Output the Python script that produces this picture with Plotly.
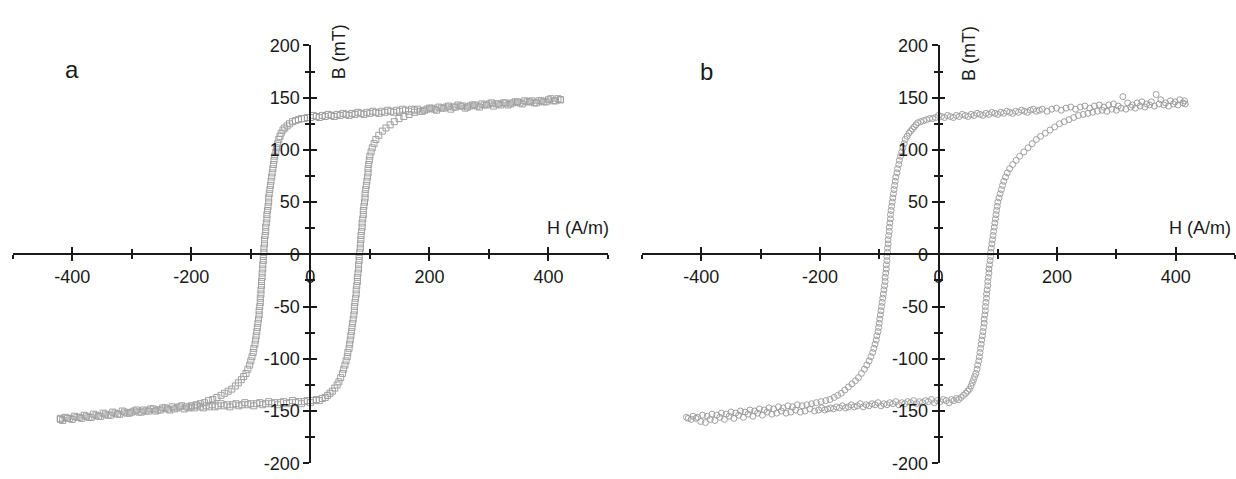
import plotly.graph_objects as go

# ---------------- Panel a (square markers) ----------------
a_up_H = [420,412,404,396,388,380,372,364,356,348,340,332,324,316,308,300,292,284,276,268,260,252,244,236,228,220,212,204,196,188,180,
          175,170,165,160,155,150,145,140,135,130,125,120,115,110,105,100,95,90,85,80,75,70,65,60,55,50,45,40,35,30,25,20,15,10,5,0,-5,-10,-15,-20,-25,-30,-35,
          -39,-43,-46,-49,-51,-53,-55,-57,-58,-60,-61,-62,-63,-64,-65,-66,-67,-68,-69,-70,-70,-71,-72,-73,-73,-74,-75,-75,-76,-77,-77,-78,-78,-79,-79,-80,-80,-81,-81,-82,-82,-83,-83,-84,-84,-85,-86,-86,-87,-88,-89,-90,-91,-92,-93,-95,-96,-98,-100,-102,-105,-108,-112,-116,-121,-126,-132,-138,-144,-150,-157,-164,-171,-178,-185,-192,-200,
          -208,-216,-224,-232,-240,-248,-256,-264,-272,-280,-288,-296,-304,-312,-320,-328,-336,-344,-352,-360,-368,-376,-384,-392,-400,-408,-416,-420]
a_up_B = [148,147,149,146,147,145,147,146,144,146,145,143,145,144,142,144,143,141,143,142,140,142,141,139,141,140,138,140,139,137,139,
          138,139,137,138,139,137,138,136,137,138,136,137,135,136,137,135,136,134,135,136,134,135,133,134,135,133,134,132,133,134,132,133,131,132,133,131,131,130,130,129,128,127,125,
          123,121,119,116,113,110,106,102,98,94,90,86,82,78,74,70,66,62,58,54,50,46,42,38,34,30,26,22,18,14,10,6,2,-2,-6,-10,-14,-18,-22,-26,-30,-34,-38,-42,-46,-50,-54,-58,-62,-66,-70,-74,-78,-82,-86,-90,-94,-98,-102,-106,-110,-114,-117,-120,-123,-126,-129,-131,-133,-135,-137,-139,-140,-142,-143,-144,-145,
          -146,-145,-147,-146,-148,-147,-149,-148,-150,-149,-151,-150,-152,-151,-153,-152,-154,-153,-155,-154,-156,-155,-157,-156,-158,-157,-159,-157]

a_low_H = [-420,-412,-404,-396,-388,-380,-372,-364,-356,-348,-340,-332,-324,-316,-308,-300,-292,-284,-276,-268,-260,-252,-244,-236,-228,-220,-212,-204,
           -200,-195,-190,-185,-180,-175,-170,-165,-160,-155,-150,-145,-140,-135,-130,-125,-120,-115,-110,-105,-100,-95,-90,-85,-80,-75,-70,-65,-60,-55,-50,-45,-40,-35,-30,-25,-20,-15,-10,-5,0,5,10,15,20,
           25,29,33,37,41,45,48,51,54,56,58,60,62,63,65,66,67,68,69,70,71,72,73,74,74,75,76,77,77,78,79,79,80,81,81,82,82,83,84,84,85,85,86,87,87,88,89,89,90,91,92,92,93,94,95,96,97,97,98,99,100,102,104,107,110,115,121,127,134,141,149,157,166,175,184,
           192,200,208,216,224,232,240,248,256,264,272,280,288,296,304,312,320,328,336,344,352,360,368,376,384,392,400,408,416,420]
a_low_B = [-158,-156,-157,-155,-156,-154,-156,-153,-155,-152,-154,-151,-153,-150,-152,-151,-149,-151,-150,-148,-150,-149,-147,-149,-148,-146,-148,-147,
           -146,-147,-145,-146,-147,-145,-146,-144,-146,-145,-143,-145,-144,-146,-144,-143,-145,-144,-142,-144,-143,-145,-143,-142,-144,-143,-141,-143,-142,-144,-142,-141,-143,-142,-140,-142,-141,-143,-141,-140,-142,-140,-139,-140,-138,
           -137,-135,-133,-131,-128,-125,-122,-118,-114,-110,-106,-102,-98,-94,-90,-86,-82,-78,-74,-70,-66,-62,-58,-54,-50,-46,-42,-38,-34,-30,-26,-22,-18,-14,-10,-6,-2,2,6,10,14,18,22,26,30,34,38,42,46,50,54,58,62,66,70,74,78,82,86,90,94,98,102,106,110,114,118,121,124,127,130,132,134,136,137,
           138,140,139,141,140,142,141,143,142,141,143,142,144,143,145,144,143,145,144,146,145,147,146,145,147,146,148,147,149,148]

# ---------------- Panel b (circle markers) ----------------
b_up_H = [415,407,399,391,383,375,367,359,351,343,335,327,319,311,303,295,287,279,271,263,255,247,239,231,223,215,207,199,191,183,175,
          170,165,160,155,150,145,140,135,130,125,120,115,110,105,100,95,90,85,80,75,70,65,60,55,50,45,40,35,30,25,20,15,10,5,0,-5,-10,-15,-20,-25,-30,-35,
          -38,-41,-44,-47,-50,-53,-56,-58,-60,-62,-64,-66,-67,-69,-70,-72,-73,-74,-75,-76,-77,-78,-79,-80,-81,-81,-82,-83,-83,-84,-85,-85,-86,-86,-87,-87,-88,-88,-89,-90,-90,-91,-92,-93,-94,-95,-96,-97,-98,-99,-100,-101,-102,-104,-105,-107,-109,-111,-114,-117,-121,-125,-130,-135,-140,-146,-152,-158,-164,-170,-176,-183,-190,
          -198,-206,-214,-222,-230,-238,-246,-254,-262,-270,-278,-286,-294,-302,-310,-318,-326,-334,-342,-350,-358,-366,-374,-382,-390,-398,-406,-414,-422]
b_up_B = [147,148,146,147,145,148,153,146,144,146,145,143,145,151,142,144,143,141,143,142,140,142,141,139,141,140,138,140,139,137,139,
          138,137,139,138,136,137,138,136,137,135,136,137,135,136,134,135,136,134,135,133,134,135,133,134,132,133,134,132,133,131,132,133,131,132,133,131,130,130,129,128,127,126,124,
          122,120,118,116,113,110,106,102,98,94,90,86,82,78,74,70,66,62,58,54,50,46,42,38,34,30,26,22,18,14,10,6,2,-2,-6,-10,-14,-18,-22,-26,-30,-34,-38,-42,-46,-50,-54,-58,-62,-66,-70,-74,-78,-82,-86,-90,-94,-98,-102,-106,-110,-114,-118,-121,-124,-127,-130,-133,-135,-137,-139,-140,-141,-142,-143,-144,
          -145,-144,-146,-145,-147,-146,-148,-147,-149,-148,-150,-149,-151,-150,-152,-151,-153,-152,-154,-153,-155,-154,-156,-155,-157,-156,-158,-157,-160]

b_low_H = [-425,-417,-409,-401,-393,-385,-377,-369,-361,-353,-345,-337,-329,-321,-313,-305,-297,-289,-281,-273,-265,-257,-249,-241,-233,-225,-217,-209,
           -202,-197,-192,-187,-182,-177,-172,-167,-162,-157,-152,-147,-142,-137,-132,-127,-122,-117,-112,-107,-102,-97,-92,-87,-82,-77,-72,-67,-62,-57,-52,-47,-42,-37,-32,-27,-22,-17,-12,-7,-2,3,8,13,18,
           22,26,30,34,38,42,46,49,52,55,57,59,61,63,65,66,68,69,70,71,72,73,74,75,76,77,77,78,79,79,80,81,81,82,83,83,84,85,85,86,87,88,88,89,90,91,92,93,94,95,96,97,98,99,100,102,104,106,108,110,113,116,120,125,131,137,144,151,158,165,172,
           180,188,196,204,212,220,228,236,244,252,260,268,276,284,292,300,308,316,324,332,340,348,356,364,372,380,388,396,404,412,416]
b_low_B = [-161,-158,-159,-156,-158,-155,-157,-154,-156,-153,-155,-152,-154,-151,-153,-152,-150,-152,-151,-149,-151,-150,-148,-150,-149,-147,-149,-148,
           -147,-148,-146,-147,-145,-147,-146,-144,-146,-145,-143,-146,-144,-145,-143,-144,-142,-145,-143,-144,-142,-143,-141,-144,-142,-143,-141,-142,-140,-143,-141,-142,-140,-141,-139,-142,-140,-141,-139,-140,-142,-139,-140,-138,-139,
           -137,-135,-133,-131,-129,-126,-123,-120,-117,-114,-110,-106,-102,-98,-94,-90,-86,-82,-78,-74,-70,-66,-62,-58,-54,-50,-46,-42,-38,-34,-30,-26,-22,-18,-14,-10,-6,-2,2,6,10,14,18,22,26,30,34,38,42,46,50,54,58,62,66,70,74,78,82,86,90,94,98,102,106,110,113,116,119,122,125,127,129,131,133,134,135,136,
           137,138,137,139,138,140,139,141,140,142,141,143,142,144,143,142,144,143,145,144,146,145,144,146,145,147,146,148,147,149,148]

x_major = [-400, -200, 0, 200, 400]
x_major_text = ["-400", "-200", "0", "200", "400"]
x_minor = [-500, -300, -100, 100, 300, 500]
y_major = [-200, -150, -100, -50, 0, 50, 100, 150, 200]
y_major_text = ["-200", "-150", "-100", "-50", "0", "50", "100", "150", "200"]
y_minor = [-175, -125, -75, -25, 25, 75, 125, 175]

FONT = "Arial, Liberation Sans, sans-serif"
MARK_COLOR = "#a0a0a0"
INK = "#1a1a1a"

fig = go.Figure()
fig.add_trace(go.Scatter(x=a_up_H + a_low_H, y=a_up_B + a_low_B, mode="markers",
                         marker=dict(symbol="square-open", size=6, color=MARK_COLOR, line=dict(width=1, color=MARK_COLOR)),
                         xaxis="x", yaxis="y", showlegend=False))
fig.add_trace(go.Scatter(x=b_up_H + b_low_H, y=b_up_B + b_low_B, mode="markers",
                         marker=dict(symbol="circle-open", size=6, color=MARK_COLOR, line=dict(width=1, color=MARK_COLOR)),
                         xaxis="x2", yaxis="y2", showlegend=False))

W, H = 1236, 479
ydom = [1 - 473 / H, 1 - 37 / H]
xdom_a = [12.7 / W, 608 / W]
xdom_b = [642 / W, 1235 / W]
ymid = (ydom[0] + ydom[1]) / 2
xmid_a = (xdom_a[0] + xdom_a[1]) / 2
xmid_b = (xdom_b[0] + xdom_b[1]) / 2

tickfont = dict(family=FONT, size=18, color=INK)

def xax(dom, overlay=None, inside=False):
    d = dict(domain=dom, range=[-500, 500], anchor="free", position=ymid, side="bottom",
             showgrid=False, zeroline=False, showline=True, linecolor=INK, linewidth=1.8,
             tickmode="array", tickvals=x_major, ticktext=x_major_text,
             ticks="inside" if inside else "outside",
             ticklen=6, tickwidth=1.8, tickcolor=INK, showticklabels=not inside,
             tickfont=tickfont, fixedrange=True, ticklabeloverflow="allow",
             minor=dict(tickmode="array", tickvals=x_minor, ticks="inside" if inside else "outside",
                        ticklen=4, tickwidth=1.8, tickcolor=INK, showgrid=False))
    if overlay:
        d["overlaying"] = overlay
    return d

def yax(xpos, overlay=None, inside=False):
    d = dict(domain=ydom, range=[-200, 200], anchor="free", position=xpos, side="left",
             showgrid=False, zeroline=False, showline=True, linecolor=INK, linewidth=1.8,
             tickmode="array", tickvals=y_major, ticktext=y_major_text,
             ticks="inside" if inside else "outside",
             ticklen=6, tickwidth=1.8, tickcolor=INK, showticklabels=not inside,
             tickfont=tickfont, fixedrange=True, ticklabeloverflow="allow",
             minor=dict(tickmode="array", tickvals=y_minor, ticks="inside" if inside else "outside",
                        ticklen=4, tickwidth=1.8, tickcolor=INK, showgrid=False))
    if overlay:
        d["overlaying"] = overlay
    return d

fig.update_layout(
    width=W, height=H, margin=dict(l=0, r=0, t=0, b=0),
    paper_bgcolor="white", plot_bgcolor="rgba(0,0,0,0)",
    xaxis=xax(xdom_a), yaxis=yax(xmid_a),
    xaxis2=xax(xdom_b), yaxis2=yax(xmid_b),
    xaxis3=xax(xdom_a, overlay="x", inside=True), yaxis3=yax(xmid_a, overlay="y", inside=True),
    xaxis4=xax(xdom_b, overlay="x2", inside=True), yaxis4=yax(xmid_b, overlay="y2", inside=True),
)
# empty traces so the overlaid tick axes are drawn
fig.add_trace(go.Scatter(x=[None], y=[None], xaxis="x3", yaxis="y3", showlegend=False, hoverinfo="skip"))
fig.add_trace(go.Scatter(x=[None], y=[None], xaxis="x4", yaxis="y4", showlegend=False, hoverinfo="skip"))

def px_x(p):
    return p / W

def px_y(p):
    return 1 - p / H

labfont = dict(family=FONT, size=18, color=INK)
annots = [
    dict(text="a", x=px_x(72), y=px_y(62), font=dict(family=FONT, size=24, color=INK)),
    dict(text="b", x=px_x(706), y=px_y(64), font=dict(family=FONT, size=24, color=INK)),
    dict(text="B (mT)", x=px_x(339), y=px_y(44), textangle=-90, font=labfont),
    dict(text="B (mT)", x=px_x(969), y=px_y(46), textangle=-90, font=labfont),
    dict(text="H (A/m)", x=px_x(578), y=px_y(228), font=labfont),
    dict(text="H (A/m)", x=px_x(1200), y=px_y(228), font=labfont),
]
for a in annots:
    a.update(xref="paper", yref="paper", showarrow=False, xanchor="center", yanchor="middle")
fig.update_layout(annotations=annots)

fig.write_html("out.html")
